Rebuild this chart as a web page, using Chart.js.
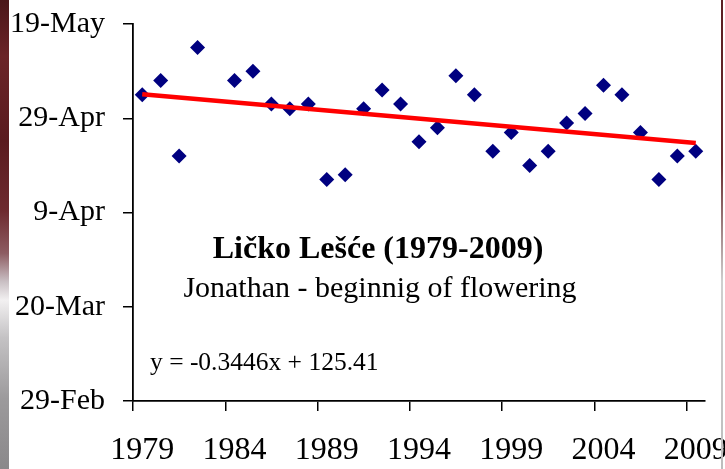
<!DOCTYPE html>
<html>
<head>
<meta charset="utf-8">
<script src="https://cdn.jsdelivr.net/npm/chart.js@4.4.1/dist/chart.umd.min.js"></script>
<style>
html,body{margin:0;padding:0;background:#fff;}
#wrap{position:relative;width:725px;height:469px;overflow:hidden;background:#fff;}
#stripe{position:absolute;left:0;top:0;width:9px;height:469px;
  background:linear-gradient(to bottom,#4a1619 0%,#6b2428 12%,#5a1b1f 30%,#6e2a2f 45%,#8d5c62 54%,#c9bfc3 60%,#f2f0f1 64%,#c4c2c4 72%,#9c9a9c 85%,#8a888a 100%);}
#edge{position:absolute;left:721px;top:0;width:2px;height:469px;
  background:linear-gradient(to bottom,#5b1e22 0%,#6a2a2e 35%,#a58a8c 50%,#cfcfcf 60%,#bdbdbd 100%);}
canvas{position:absolute;left:0;top:0;}
</style>
</head>
<body>
<div id="wrap">
  <canvas id="chart" width="725" height="469"></canvas>
  <div id="stripe"></div>
  <div id="edge"></div>
</div>
<script>
/* DATA */
const years=["1979","1980","1981","1982","1983","1984","1985","1986","1987","1988",
  "1989","1990","1991","1992","1993","1994","1995","1996","1997","1998",
  "1999","2000","2001","2002","2003","2004","2005","2006","2007","2008","2009"];

// day of year (1900 calendar, 60 = 29-Feb), 1983 missing
const flowering=[125,128,112,135,null,128,130,123,122,123,
  107,108,122,126,123,115,118,129,125,113,
  117,110,113,119,121,127,125,117,107,112,113];

const trendYears=["1979","2009"];
const trendValues=[125.07,114.73];

const yTickValues=[60,80,100,120,140];
const yTickLabels=["29-Feb","20-Mar","9-Apr","29-Apr","19-May"];

const TITLE="Ličko Lešće (1979-2009)";
const SUBTITLE="Jonathan - beginnig of flowering";
const EQUATION="y = -0.3446x + 125.41";

/* TEXTS */
const notes={
  id:"notes",
  afterDraw(chart){
    const c=chart.ctx;
    c.save();
    c.fillStyle="#000";
    c.textBaseline="alphabetic";
    c.textAlign="center";
    c.font="bold 32px 'Liberation Serif'";
    c.fillText(TITLE,378,258);
    c.font="30px 'Liberation Serif'";
    c.fillText(SUBTITLE,380,297);
    c.textAlign="left";
    c.font="25.5px 'Liberation Serif'";
    c.fillText(EQUATION,150,370);
    c.restore();
  }
};

Chart.defaults.font.family="'Liberation Serif'";
Chart.defaults.color="#000";

new Chart(document.getElementById("chart"),{
  type:"line",
  data:{
    labels:years,
    datasets:[
      {
        data:trendYears.map((y,i)=>({x:y,y:trendValues[i]})),
        borderColor:"#ff0000",
        borderWidth:4.5,
        pointRadius:0,
        spanGaps:true,
        fill:false
      },
      {
        data:flowering,
        showLine:false,
        pointStyle:"rectRot",
        pointRadius:7.5,
        pointHoverRadius:7.5,
        pointBackgroundColor:"#000080",
        pointBorderWidth:0,
        borderColor:"#000080"
      }
    ]
  },
  options:{
    responsive:false,
    devicePixelRatio:1,
    animation:false,
    events:[],
    layout:{padding:{top:24,right:20,left:0,bottom:0}},
    plugins:{legend:{display:false},tooltip:{enabled:false}},
    scales:{
      x:{
        type:"category",
        offset:true,
        grid:{
          offset:true,
          drawOnChartArea:false,
          tickLength:10,
          lineWidth:1.5,
          color:ctx=>(ctx.index%5===0?"#000":"rgba(0,0,0,0)")
        },
        border:{display:true,color:"#000",width:1.8},
        ticks:{
          autoSkip:false,
          maxRotation:0,
          padding:20,
          font:{size:32},
          color:"#000",
          callback:(v,i)=>(i%5===0?years[i]:"")
        },
        afterFit:s=>{s.height=68;s.paddingLeft=0;s.paddingRight=0;}
      },
      y:{
        min:60,
        max:140,
        grid:{drawOnChartArea:false,tickLength:10,lineWidth:1.5,color:"#000"},
        border:{display:true,color:"#000",width:1.8},
        ticks:{
          stepSize:20,
          padding:18,
          font:{size:30},
          color:"#000",
          callback:v=>{
            const k=yTickValues.indexOf(v);
            return k<0?"":yTickLabels[k];
          }
        },
        afterFit:s=>{s.width=133;s.paddingTop=0;s.paddingBottom=0;}
      }
    }
  },
  plugins:[notes]
});
</script>
</body>
</html>
